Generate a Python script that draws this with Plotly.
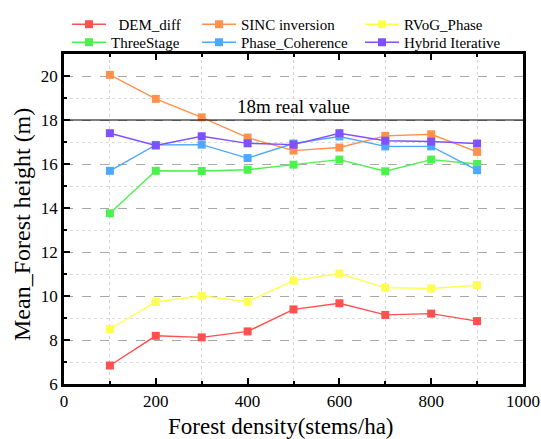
import plotly.graph_objects as go

# Forest density (stems/ha)
density = [100, 200, 300, 400, 500, 600, 700, 800, 900]

# Mean forest height (m) for each inversion method
dem_diff = [6.84, 8.19, 8.12, 8.39, 9.39, 9.67, 9.14, 9.20, 8.86]
sinc_inversion = [20.05, 18.96, 18.12, 17.20, 16.61, 16.75, 17.28, 17.35, 16.55]
rvog_phase = [8.50, 9.73, 10.01, 9.74, 10.70, 11.02, 10.38, 10.34, 10.49]
three_stage = [13.76, 15.69, 15.68, 15.74, 15.97, 16.20, 15.67, 16.20, 16.00]
phase_coherence = [15.69, 16.87, 16.88, 16.27, 16.93, 17.25, 16.80, 16.80, 15.72]
hybrid_iterative = [17.40, 16.84, 17.26, 16.94, 16.88, 17.40, 17.06, 17.02, 16.93]

real_value = 18

# name, values, colour, legend slot (column, row)
series = [
    ("\u00a0\u00a0DEM_diff", dem_diff, "#ff4f4f", (0, 0)),
    ("SINC inversion", sinc_inversion, "#ff914d", (1, 0)),
    ("RVoG_Phase", rvog_phase, "#ffff4f", (2, 0)),
    ("ThreeStage", three_stage, "#4cf24c", (0, 1)),
    ("Phase_Coherence", phase_coherence, "#4fa8ff", (1, 1)),
    ("Hybrid Iterative", hybrid_iterative, "#8050ff", (2, 1)),
]

FONT = "Liberation Serif, Times New Roman, serif"
W, H = 541, 439
ML, MR, MT, MB = 64, 18, 54, 55

col_px = [67, 197, 360]
row_px = [8, 26]

fig = go.Figure()
legends = {}
for i, (name, vals, color, (c, r)) in enumerate(series):
    key = "legend" if i == 0 else f"legend{i + 1}"
    fig.add_trace(go.Scatter(
        x=density, y=vals, name=name, mode="lines+markers",
        line=dict(color=color, width=1.4),
        marker=dict(symbol="square", size=8, color=color),
        legend=key, showlegend=True,
    ))
    legends[key] = dict(
        x=col_px[c] / W, y=1 - row_px[r] / H,
        xref="container", yref="container",
        xanchor="left", yanchor="top", bgcolor="rgba(0,0,0,0)",
        font=dict(family=FONT, size=15, color="black"),
        itemwidth=34, visible=True,
    )

# reference line for the true height
fig.add_shape(type="line", xref="paper", x0=0, x1=1, yref="y",
              y0=real_value, y1=real_value, line=dict(color="black", width=1.2))
fig.add_annotation(x=500, y=real_value, xref="x", yref="y", text="18m real value",
                   showarrow=False, yanchor="bottom", yshift=1,
                   font=dict(family=FONT, size=19, color="black"))

pw, ph = W - ML - MR, H - MT - MB

# axis titles
fig.add_annotation(x=(281 - ML) / pw, y=-(426 - (H - MB)) / ph,
                   xref="paper", yref="paper", xanchor="center", yanchor="middle",
                   text="Forest density(stems/ha)", showarrow=False,
                   font=dict(family=FONT, size=23, color="black"))
fig.add_annotation(x=(22 - ML) / pw, y=1 - (225 - MT) / ph,
                   xref="paper", yref="paper", xanchor="center", yanchor="middle",
                   text="Mean_Forest height (m)", showarrow=False, textangle=-90,
                   font=dict(family=FONT, size=24, color="black"))

fig.update_layout(
    width=W, height=H, showlegend=True,
    margin=dict(l=ML, r=MR, t=MT, b=MB, autoexpand=False),
    paper_bgcolor="white", plot_bgcolor="white",
    font=dict(family=FONT, color="black"),
    xaxis=dict(
        range=[0, 1000], dtick=200, tick0=0,
        ticks="inside", ticklen=6, tickwidth=1.5, tickcolor="black",
        showline=True, linecolor="black", linewidth=2.5, mirror="ticks",
        showgrid=False, zeroline=False,
        tickfont=dict(family=FONT, size=17, color="black"),
        minor=dict(dtick=100, ticks="inside", ticklen=3, tickcolor="black",
                   showgrid=True, gridcolor="#d6d6d6", griddash="dot", gridwidth=1),
    ),
    yaxis=dict(
        range=[6, 21], dtick=2, tick0=6,
        ticks="inside", ticklen=6, tickwidth=1.5, tickcolor="black",
        showline=True, linecolor="black", linewidth=2.5, mirror=True,
        showgrid=True, gridcolor="#a8a8a8", griddash="dash", gridwidth=1,
        zeroline=False,
        tickfont=dict(family=FONT, size=17, color="black"),
        minor=dict(dtick=1, ticks="inside", ticklen=3, tickcolor="black",
                   showgrid=True, gridcolor="#dcdcdc", griddash="dot", gridwidth=1),
    ),
    **legends,
)

fig.write_html("out.html")
